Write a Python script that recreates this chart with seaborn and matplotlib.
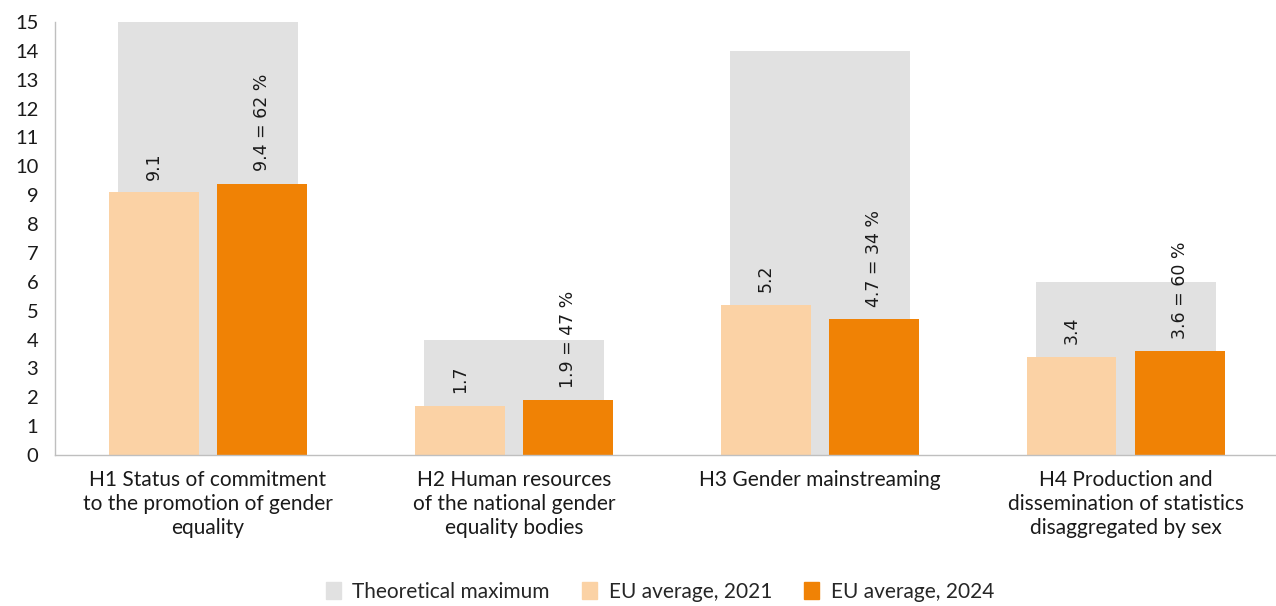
import matplotlib
matplotlib.use("Agg")
import matplotlib.pyplot as plt
import seaborn as sns
import pandas as pd
from matplotlib.patches import Patch
from matplotlib.ticker import FixedLocator

categories = [
    "H1 Status of commitment\nto the promotion of gender\nequality",
    "H2 Human resources\nof the national gender\nequality bodies",
    "H3 Gender mainstreaming",
    "H4 Production and\ndissemination of statistics\ndisaggregated by sex",
]
theoretical_max = [15, 4, 14, 6]
eu_2021 = [9.1, 1.7, 5.2, 3.4]
eu_2024 = [9.4, 1.9, 4.7, 3.6]
pct_2024 = [62, 47, 34, 60]
series_names = ["Theoretical maximum", "EU average, 2021", "EU average, 2024"]
y_ticks = list(range(0, 16))

c_max = "#E1E1E1"
c_21 = "#FBD2A5"
c_24 = "#F08205"

sns.set_style("white")
plt.rcParams["font.family"] = ["Lato", "DejaVu Sans"]

fig = plt.figure(figsize=(12.76, 6.06), dpi=100)
ax = fig.add_axes([55 / 1276, 1 - 455 / 606, 1 - 55 / 1276 + 0.002, (455 - 22) / 606])

df_max = pd.DataFrame({"cat": categories, "value": theoretical_max})
df_long = pd.DataFrame({
    "cat": categories * 2,
    "value": eu_2021 + eu_2024,
    "series": [series_names[1]] * 4 + [series_names[2]] * 4,
})

sns.barplot(data=df_max, x="cat", y="value", color=c_max, width=0.588,
            saturation=1, ax=ax, order=categories, linewidth=0)
sns.barplot(data=df_long, x="cat", y="value", hue="series",
            palette={series_names[1]: c_21, series_names[2]: c_24},
            width=0.708, gap=0.17, saturation=1, ax=ax, order=categories,
            legend=False, linewidth=0)

# value labels
bars_21 = ax.containers[1]
bars_24 = ax.containers[2]
for b, v in zip(bars_21, eu_2021):
    ax.annotate(f"{v:.1f}", (b.get_x() + b.get_width() / 2, b.get_height()),
                xytext=(0, 9), textcoords="offset points", rotation=90,
                ha="center", va="bottom", fontsize=12.5, family="DejaVu Sans",
                color="#1a1a1a")
for b, v, p in zip(bars_24, eu_2024, pct_2024):
    ax.annotate(f"{v:.1f} = {p} %", (b.get_x() + b.get_width() / 2, b.get_height()),
                xytext=(0, 9), textcoords="offset points", rotation=90,
                ha="center", va="bottom", fontsize=12.5, family="DejaVu Sans",
                color="#1a1a1a")

ax.set_xlim(-0.5, 3.5)
ax.set_ylim(0, 15)
ax.set_yticks(y_ticks)
ax.set_xlabel("")
ax.set_ylabel("")
ax.tick_params(axis="y", labelsize=14.5, length=8, width=1, color="#BFBFBF",
               direction="out", pad=4, labelcolor="#1a1a1a")
ax.tick_params(axis="x", which="major", length=0, labelsize=15, pad=11,
               labelcolor="#1a1a1a")
ax.xaxis.set_minor_locator(FixedLocator([-0.5, 0.5, 1.5, 2.5, 3.5]))
ax.tick_params(axis="x", which="minor", length=6, width=1, color="#BFBFBF",
               direction="out")
for lab in ax.get_xticklabels():
    lab.set_ha("center")
    lab.set_multialignment("center")
    lab.set_linespacing(1.25)

for s in ["top", "right"]:
    ax.spines[s].set_visible(False)
for s in ["left", "bottom"]:
    ax.spines[s].set_color("#BFBFBF")
    ax.spines[s].set_linewidth(1)
ax.spines["left"].set_bounds(0, 15)

handles = [Patch(color=c_max), Patch(color=c_21), Patch(color=c_24)]
fig.legend(handles, series_names, loc="center", bbox_to_anchor=(660 / 1276, 1 - 592 / 606),
           ncol=3, frameon=False, fontsize=15, handlelength=0.72, handleheight=0.85,
           columnspacing=1.55, handletextpad=0.55)

fig.savefig("out.png", dpi=100)
